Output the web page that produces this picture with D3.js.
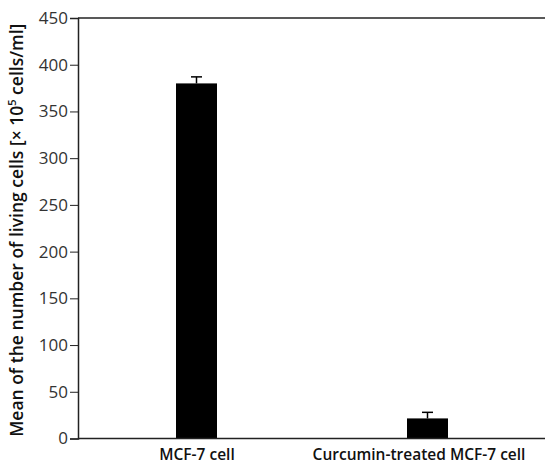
<!DOCTYPE html>
<html>
<head>
<meta charset="utf-8">
<script src="https://cdn.jsdelivr.net/npm/d3@7"></script>
<style>
  body { margin: 0; background: #fff; }
  text { font-family: "Open Sans", Lato, sans-serif; }
</style>
</head>
<body>
<div id="chart"></div>
<script>
// data
var categories = ["MCF-7 cell", "Curcumin-treated MCF-7 cell"];
var means = [380, 21.5];
var errors = [7, 6.5];
var yTicks = [0, 50, 100, 150, 200, 250, 300, 350, 400, 450];

// setup dimensions (note: "top" is reserved on window, so use plot* names)
var width = 545, height = 465;
var plotLeft = 78, plotTop = 18, plotBottom = 438.5;

var svg = d3.select("#chart").append("svg")
    .attr("width", width)
    .attr("height", height);

var x = d3.scalePoint()
    .domain(categories)
    .range([81, 543])
    .padding(0.5);

var y = d3.scaleLinear()
    .domain([0, 450])
    .range([plotBottom, plotTop]);

var barW = 41, capW = 11;

// bars
svg.selectAll("rect.bar")
    .data(means)
  .enter().append("rect")
    .attr("class", "bar")
    .attr("x", function(d, i) { return x(categories[i]) - barW / 2; })
    .attr("y", function(d) { return y(d); })
    .attr("width", barW)
    .attr("height", function(d) { return y(0) - y(d); })
    .attr("fill", "#000");

// error bars (upper only)
var eb = svg.selectAll("g.err")
    .data(means)
  .enter().append("g")
    .attr("class", "err")
    .attr("stroke", "#000")
    .attr("stroke-width", 1.5);

eb.append("line")
    .attr("x1", function(d, i) { return x(categories[i]); })
    .attr("x2", function(d, i) { return x(categories[i]); })
    .attr("y1", function(d) { return y(d); })
    .attr("y2", function(d, i) { return y(d + errors[i]); });

eb.append("line")
    .attr("x1", function(d, i) { return x(categories[i]) - capW / 2; })
    .attr("x2", function(d, i) { return x(categories[i]) + capW / 2; })
    .attr("y1", function(d, i) { return y(d + errors[i]); })
    .attr("y2", function(d, i) { return y(d + errors[i]); });

// y axis
var yAxis = svg.append("g")
    .attr("transform", "translate(" + plotLeft + ",0)")
    .call(d3.axisLeft(y).tickValues(yTicks).tickSize(8).tickPadding(2));
yAxis.select(".domain").attr("stroke", "#222").attr("stroke-width", 1.5);
yAxis.selectAll(".tick line").attr("stroke", "#222").attr("stroke-width", 1);
yAxis.selectAll(".tick text")
    .attr("fill", "#333")
    .style("font-size", "17px");

// top frame line
svg.append("line")
    .attr("x1", plotLeft).attr("x2", width)
    .attr("y1", y(450)).attr("y2", y(450))
    .attr("stroke", "#222").attr("stroke-width", 1.5);

var xAxis = svg.append("g")
    .attr("transform", "translate(0," + y(0) + ")")
    .call(d3.axisBottom(x).tickSize(0).tickPadding(10));
xAxis.select(".domain")
    .attr("d", "M" + plotLeft + ",0H" + width)
    .attr("stroke", "#222").attr("stroke-width", 1.5);
xAxis.selectAll(".tick text")
    .attr("fill", "#111")
    .attr("dx", function(d, i) { return i === 1 ? -9 : 0; })
    .style("font-size", "15.5px")
    .style("font-weight", "600");

// y title
var title = svg.append("text")
    .attr("transform", "translate(23," + ((plotTop + plotBottom) / 2 + 2) + ") rotate(-90)")
    .attr("text-anchor", "middle")
    .attr("fill", "#111")
    .style("font-size", "17.5px")
    .style("font-weight", "600");
title.append("tspan").text("Mean of the number of living cells [× 10");
title.append("tspan").attr("baseline-shift", "super").style("font-size", "11px").text("5");
title.append("tspan").text(" cells/ml]");
</script>
</body>
</html>
